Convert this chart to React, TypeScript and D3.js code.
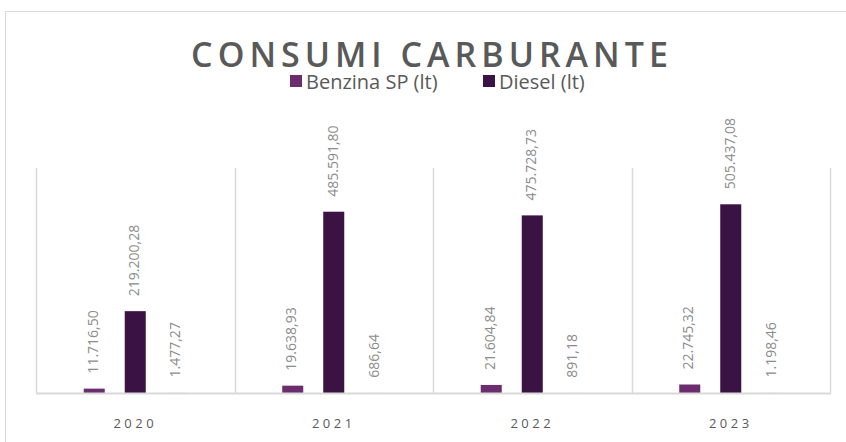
import { useEffect, useRef } from "react";
import * as d3 from "d3";

const categories = ["2020", "2021", "2022", "2023"];
const benzina = [11716.5, 19638.93, 21604.84, 22745.32];
const diesel = [219200.28, 485591.8, 475728.73, 505437.08];
const altro = [1477.27, 686.64, 891.18, 1198.46];

const seriesNames = ["Benzina SP (lt)", "Diesel (lt)", ""];
const seriesColors = ["#6b2d6e", "#3a1243", "#f3eef4"];
const legendItems = ["Benzina SP (lt)", "Diesel (lt)"];

const W = 846;
const H = 442;
const PLOT = { left: 36, right: 830, top: 169, bottom: 393 };

const it = d3.formatLocale({
  decimal: ",",
  thousands: ".",
  grouping: [3],
  currency: ["€", ""],
});
const fmt = it.format(",.2f");

export default function App() {
  const svgRef = useRef<SVGSVGElement>(null);

  useEffect(() => {
    const svg = svgRef.current;
    if (!svg) return;
    document.body.style.margin = "0";

    const root = d3.select(svg);
    root.selectAll("*").remove();

    // chart area border (runs off right/bottom like the source screenshot)
    root
      .append("rect")
      .attr("x", 5.5)
      .attr("y", 11.5)
      .attr("width", 900)
      .attr("height", 500)
      .attr("fill", "#fff")
      .attr("stroke", "#d9d9d9")
      .attr("stroke-width", 1);

    const series = [benzina, diesel, altro];
    const keys = [0, 1, 2];

    const x0 = d3
      .scaleBand<string>()
      .domain(categories)
      .range([PLOT.left, PLOT.right])
      .padding(0);

    const x1 = d3
      .scaleBand<number>()
      .domain(keys)
      .range([0, x0.bandwidth()])
      .paddingInner(20 / 41)
      .paddingOuter(1.164);

    const y = d3
      .scaleLinear()
      .domain([0, 600000])
      .range([PLOT.bottom, PLOT.top]);

    // category dividers
    const bounds = categories.map((c) => x0(c)!).concat([PLOT.right]);
    root
      .append("g")
      .selectAll("line")
      .data(bounds)
      .join("line")
      .attr("x1", (d) => Math.round(d) + 0.5)
      .attr("x2", (d) => Math.round(d) + 0.5)
      .attr("y1", PLOT.top - 1)
      .attr("y2", PLOT.bottom)
      .attr("stroke", "#d9d9d9")
      .attr("stroke-width", 1.5);

    // bars
    const bars = root.append("g");
    categories.forEach((c, ci) => {
      keys.forEach((k) => {
        const v = series[k][ci];
        const bx = x0(c)! + x1(k)!;
        bars
          .append("rect")
          .attr("x", bx)
          .attr("y", y(v))
          .attr("width", x1.bandwidth())
          .attr("height", PLOT.bottom - y(v))
          .attr("fill", seriesColors[k]);
      });
    });

    // baseline
    root
      .append("line")
      .attr("x1", PLOT.left)
      .attr("x2", PLOT.right + 1)
      .attr("y1", PLOT.bottom + 0.5)
      .attr("y2", PLOT.bottom + 0.5)
      .attr("stroke", "#d9d9d9")
      .attr("stroke-width", 2);

    // data labels
    const labels = root.append("g");
    categories.forEach((c, ci) => {
      keys.forEach((k) => {
        const v = series[k][ci];
        const cx = x0(c)! + x1(k)! + x1.bandwidth() / 2;
        const ty = y(v) - 15;
        labels
          .append("text")
          .attr("transform", `translate(${cx},${ty}) rotate(-90)`)
          .attr("text-anchor", "start")
          .attr("dominant-baseline", "middle")
          .attr("font-family", "'Open Sans', sans-serif")
          .attr("font-size", 14)
          .attr("fill", "#8c8c8c")
          .text(fmt(v));
      });
    });

    // category labels
    root
      .append("g")
      .selectAll("text")
      .data(categories)
      .join("text")
      .attr("x", (d) => x0(d)! + x0.bandwidth() / 2)
      .attr("y", 428)
      .attr("text-anchor", "middle")
      .attr("font-family", "'Open Sans', sans-serif")
      .attr("font-size", 13)
      .attr("letter-spacing", 3.5)
      .attr("fill", "#595959")
      .text((d) => d);

    // title
    root
      .append("text")
      .attr("x", 432)
      .attr("y", 67)
      .attr("text-anchor", "middle")
      .attr("font-family", "'Open Sans', sans-serif")
      .attr("font-weight", 600)
      .attr("font-size", 34)
      .attr("letter-spacing", 5)
      .attr("fill", "#595959")
      .text("CONSUMI CARBURANTE");

    // legend
    const legendX = [290, 483];
    const lg = root.append("g");
    legendItems.forEach((name, i) => {
      lg.append("rect")
        .attr("x", legendX[i])
        .attr("y", 75)
        .attr("width", 12)
        .attr("height", 12)
        .attr("fill", seriesColors[seriesNames.indexOf(name)]);
      lg.append("text")
        .attr("x", legendX[i] + 16)
        .attr("y", 89)
        .attr("font-family", "'Open Sans', sans-serif")
        .attr("font-size", 20)
        .attr("fill", "#595959")
        .text(name);
    });
  }, []);

  return (
    <svg
      ref={svgRef}
      width={W}
      height={H}
      style={{ position: "absolute", left: 0, top: 0, display: "block" }}
    />
  );
}
